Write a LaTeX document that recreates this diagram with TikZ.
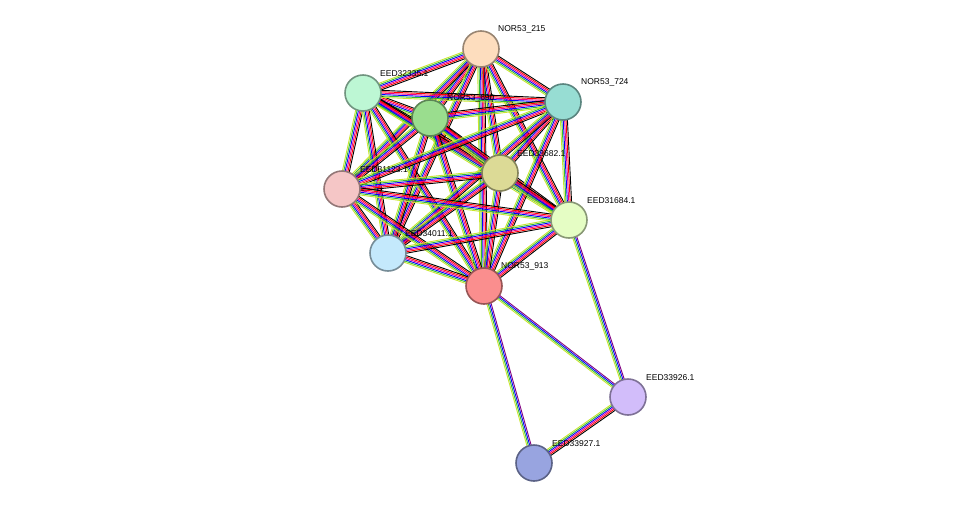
\documentclass[tikz,border=0pt]{standalone}
\usepackage{fontspec}
\setmainfont{Liberation Sans}
\usetikzlibrary{calc,backgrounds}

\definecolor{cpeach}{HTML}{FDDDBE}
\definecolor{cmint}{HTML}{BDF7D4}
\definecolor{cgreen}{HTML}{9ADD8E}
\definecolor{cteal}{HTML}{97DDD3}
\definecolor{ckhaki}{HTML}{DCDA96}
\definecolor{cpink}{HTML}{F5C6C6}
\definecolor{clime}{HTML}{E5FDC4}
\definecolor{csky}{HTML}{C4E9FC}
\definecolor{cred}{HTML}{FA8E8E}
\definecolor{clav}{HTML}{D2BDFA}
\definecolor{cblue}{HTML}{98A4E0}
\definecolor{lyel}{HTML}{C8E62E}
\definecolor{lgrn}{HTML}{33BB33}

\tikzset{
  prot/.style={circle, draw=#1!60!black, fill=#1, line width=1.6pt, minimum size=36pt, inner sep=0pt},
  lab/.style={anchor=south west, font=\fontsize{8.5}{10}\selectfont, inner sep=1pt}
}

% several coloured lines side by side between two nodes
\newcommand\linkab[3]{%
  \foreach \c/\o in #3 {
    \draw[\c, line width=0.9pt] ($(#1)!\o pt!90:(#2)$) -- ($(#2)!\o pt!-90:(#1)$);
  }}
\def\bandsix{lyel/-3.5,lgrn/-2.1,blue/-0.7,magenta/0.7,red/2.1,black/3.5}
\def\bandfour{lyel/-2.1,lgrn/-0.7,blue/0.7,violet/2.1}

\begin{document}
\begin{tikzpicture}[x=1pt, y=-1pt]
  \useasboundingbox (0,0) rectangle (976,509);

  \node[prot=cpeach] (p215) at (481,49) {};
  \node[prot=cmint]  (e32335) at (363,93) {};
  \node[prot=cgreen] (p690) at (430,118) {};
  \node[prot=cteal]  (p724) at (563,102) {};
  \node[prot=ckhaki] (e33682) at (500,173) {};
  \node[prot=cpink]  (e31123) at (342,189) {};
  \node[prot=clime]  (e31684) at (569,220) {};
  \node[prot=csky]   (e34011) at (388,253) {};
  \node[prot=cred]   (p913) at (484,286) {};
  \node[prot=clav]   (e33926) at (628,397) {};
  \node[prot=cblue]  (e33927) at (534,463) {};

  \node[lab] (l215) at (497,34) {NOR53\_215};
  \node[lab] (l32335) at (379,78) {EED32335.1};
  \node[lab] (l690) at (446,103) {NOR53\_690};
  \node[lab] (l724) at (580,87) {NOR53\_724};
  \node[lab] (l33682) at (516,158) {EED33682.1};
  \node[lab] (l31123) at (359,174) {EED31123.1};
  \node[lab] (l31684) at (586,205) {EED31684.1};
  \node[lab] (l34011) at (404,238) {EED34011.1};
  \node[lab] (l913) at (500,271) {NOR53\_913};
  \node[lab] (l33926) at (645,382) {EED33926.1};
  \node[lab] (l33927) at (551,448) {EED33927.1};

  \begin{scope}[on background layer]
    \foreach \a/\b in {p215/e32335,p215/p690,p215/p724,p215/e33682,p215/e31123,p215/e31684,p215/e34011,p215/p913,
        e32335/p690,e32335/p724,e32335/e33682,e32335/e31123,e32335/e31684,e32335/e34011,e32335/p913,
        p690/p724,p690/e33682,p690/e31123,p690/e31684,p690/e34011,p690/p913,
        p724/e33682,p724/e31123,p724/e31684,p724/e34011,p724/p913,
        e33682/e31123,e33682/e31684,e33682/e34011,e33682/p913,
        e31123/e31684,e31123/e34011,e31123/p913,
        e31684/e34011,e31684/p913,e34011/p913}
      {\linkab{\a}{\b}{\bandsix}}
    \linkab{p913}{e33926}{\bandfour}
    \linkab{p913}{e33927}{\bandfour}
    \linkab{e31684}{e33926}{\bandfour}
    \linkab{e33926}{e33927}{\bandsix}
  \end{scope}
\end{tikzpicture}
\end{document}
